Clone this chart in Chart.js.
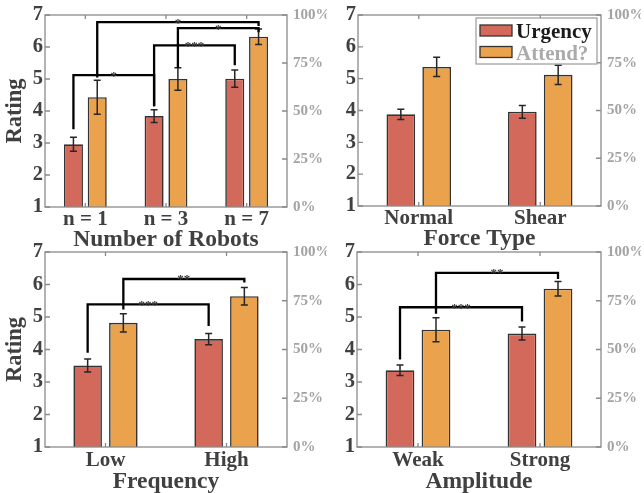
<!DOCTYPE html>
<html>
<head>
<meta charset="utf-8">
<script src="https://cdn.jsdelivr.net/npm/chart.js@4"></script>
<style>
html,body{margin:0;padding:0;width:644px;height:493px;overflow:hidden;background:#fff;}
canvas{position:absolute;left:0;top:0;}
</style>
</head>
<body>
<canvas id="p0" width="644" height="520"></canvas>
<canvas id="p1" width="644" height="520"></canvas>
<canvas id="p2" width="644" height="520"></canvas>
<canvas id="p3" width="644" height="520"></canvas>
<script>
// ---------------- data ----------------
const seriesNames = ['Urgency', 'Attend?'];
const ratingTicks = [1, 2, 3, 4, 5, 6, 7];
const percentTicks = [0, 25, 50, 75, 100];

const robotCats = ['n = 1', 'n = 3', 'n = 7'];
const robotUrgency = [2.96, 3.84, 5.01];
const robotUrgencyErr = [0.22, 0.20, 0.27];
const robotAttend = [4.43, 5.00, 6.32];
const robotAttendErr = [0.53, 0.35, 0.24];
const robotBrackets = [
  {from: [0, 0], to: [0, 1], y1: 3.43, top: 5.12, y2: 4.15, label: '*'},
  {from: [0, 1], to: [0, 2], y1: 4.15, top: 6.05, y2: 5.43, label: '***'},
  {from: [1, 1], to: [1, 2], y1: 5.34, top: 6.59, y2: 6.46, label: '*'},
  {from: [1, 0], to: [1, 2], y1: 5.05, top: 6.78, y2: 6.66, label: '*'}
];

const forceCats = ['Normal', 'Shear'];
const forceUrgency = [3.88, 3.96];
const forceUrgencyErr = [0.16, 0.20];
const forceAttend = [5.37, 5.12];
const forceAttendErr = [0.30, 0.30];
const forceBrackets = [];

const freqCats = ['Low', 'High'];
const freqUrgency = [3.51, 4.32];
const freqUrgencyErr = [0.20, 0.17];
const freqAttend = [4.82, 5.64];
const freqAttendErr = [0.28, 0.27];
const freqBrackets = [
  {from: [0, 0], to: [0, 1], y1: 3.90, top: 5.39, y2: 4.72, label: '***'},
  {from: [1, 0], to: [1, 1], y1: 5.23, top: 6.17, y2: 6.06, label: '**'}
];

const ampCats = ['Weak', 'Strong'];
const ampUrgency = [3.36, 4.49];
const ampUrgencyErr = [0.16, 0.20];
const ampAttend = [4.61, 5.87];
const ampAttendErr = [0.37, 0.22];
const ampBrackets = [
  {from: [0, 0], to: [0, 1], y1: 3.69, top: 5.30, y2: 4.86, label: '***'},
  {from: [1, 0], to: [1, 1], y1: 5.10, top: 6.36, y2: 6.17, label: '**'}
];

// ---------------- style ----------------
const FONT = "'Liberation Serif', 'Times New Roman', serif";
const DARK = '#404040';
const GRAY = '#a3a3a3';
const FRAME = '#8a8a8a';
const URG_COLOR = '#d3695b';
const ATT_COLOR = '#eaa24c';
const BAR_EDGE = '#333333';
const CW = 644, CH = 520, WY = 45, WY2 = 40;
const TITLE_SIZE = 23.5;

const panelPlugin = {
  id: 'panel',
  afterDatasetsDraw(chart, args, opts) {
    const ctx = chart.ctx;
    const a = chart.chartArea;
    const y = chart.scales.y, y2 = chart.scales.y2;
    ctx.save();
    // error bars
    chart.data.datasets.forEach((ds, di) => {
      const meta = chart.getDatasetMeta(di);
      meta.data.forEach((bar, i) => {
        const v = ds.data[i], e = ds.errors[i];
        const yt = y.getPixelForValue(v + e), yb = y.getPixelForValue(v - e);
        ctx.strokeStyle = '#262626';
        ctx.lineWidth = 1.5;
        ctx.beginPath();
        ctx.moveTo(bar.x, yt); ctx.lineTo(bar.x, yb);
        ctx.moveTo(bar.x - 3.5, yt); ctx.lineTo(bar.x + 3.5, yt);
        ctx.moveTo(bar.x - 3.5, yb); ctx.lineTo(bar.x + 3.5, yb);
        ctx.stroke();
      });
    });
    // significance brackets
    (opts.brackets || []).forEach(b => {
      const x1 = chart.getDatasetMeta(b.from[0]).data[b.from[1]].x;
      const x2 = chart.getDatasetMeta(b.to[0]).data[b.to[1]].x;
      const ya = y.getPixelForValue(b.y1);
      const yh = y.getPixelForValue(b.top);
      const yb = y.getPixelForValue(b.y2);
      ctx.strokeStyle = '#000';
      ctx.lineWidth = 2.3;
      ctx.lineJoin = 'miter';
      ctx.beginPath();
      ctx.moveTo(x1, ya); ctx.lineTo(x1, yh); ctx.lineTo(x2, yh); ctx.lineTo(x2, yb);
      ctx.stroke();
      ctx.fillStyle = '#3a3a3a';
      ctx.font = 'bold 13px ' + FONT;
      ctx.textAlign = 'center';
      ctx.textBaseline = 'alphabetic';
      ctx.fillText(b.label, (x1 + x2) / 2, yh + 4.5);
    });
    // frame
    ctx.strokeStyle = FRAME;
    ctx.lineWidth = 1.3;
    ctx.strokeRect(a.left, a.top, a.right - a.left, a.bottom - a.top);
    // inward ticks
    ctx.beginPath();
    y.ticks.forEach(t => {
      const py = y.getPixelForValue(t.value);
      ctx.moveTo(a.left, py); ctx.lineTo(a.left + 5, py);
    });
    y2.ticks.forEach(t => {
      const py = y2.getPixelForValue(t.value);
      ctx.moveTo(a.right, py); ctx.lineTo(a.right - 5, py);
    });
    chart.data.labels.forEach((l, i) => {
      const px = chart.scales.x.getPixelForValue(i);
      ctx.moveTo(px, a.top); ctx.lineTo(px, a.top + 4);
      ctx.moveTo(px, a.bottom); ctx.lineTo(px, a.bottom - 4);
    });
    ctx.stroke();
    // legend inside the axes
    if (opts.legend) {
      const bw = 121, bh = 46;
      const bx = a.right - 4 - bw, by = a.top + 3;
      ctx.fillStyle = '#fff';
      ctx.fillRect(bx, by, bw, bh);
      ctx.strokeStyle = '#9a9a9a';
      ctx.lineWidth = 1.2;
      ctx.strokeRect(bx, by, bw, bh);
      const rows = [by + 12.5, by + 34];
      const textColors = ['#1a1a1a', '#ababab'];
      chart.data.datasets.forEach((ds, i) => {
        ctx.fillStyle = ds.backgroundColor;
        ctx.fillRect(bx + 4, rows[i] - 5.5, 32, 11);
        ctx.strokeStyle = BAR_EDGE;
        ctx.lineWidth = 1.3;
        ctx.strokeRect(bx + 4, rows[i] - 5.5, 32, 11);
        ctx.fillStyle = textColors[i];
        ctx.font = 'bold 21px ' + FONT;
        ctx.textAlign = 'left';
        ctx.textBaseline = 'alphabetic';
        ctx.fillText(ds.label, bx + 40, rows[i] + 7.5);
      });
    }
    ctx.restore();
  }
};

function makePanel(id, area, cats, urg, urgErr, att, attErr, xTitle, showRating, brackets, legend, titleCenterY, xTickPad) {
  const hx = titleCenterY - area.B + TITLE_SIZE * 0.6;
  const fontSpec = (s) => ({family: FONT, size: s, weight: 'bold'});
  const ds = (label, data, errors, color) => ({
    label, data, errors,
    backgroundColor: color,
    borderColor: BAR_EDGE,
    borderWidth: 1.6,
    borderSkipped: false,
    categoryPercentage: 0.59,
    barPercentage: 0.8
  });
  return new Chart(document.getElementById(id), {
    type: 'bar',
    data: {
      labels: cats,
      datasets: [ds(seriesNames[0], urg, urgErr, URG_COLOR), ds(seriesNames[1], att, attErr, ATT_COLOR)]
    },
    plugins: [panelPlugin],
    options: {
      responsive: false,
      animation: false,
      events: [],
      layout: {padding: {left: area.L - WY, right: CW - area.R - WY2, top: area.T, bottom: CH - area.B - hx}},
      plugins: {
        legend: {display: false},
        tooltip: {enabled: false},
        panel: {brackets, legend}
      },
      scales: {
        x: {
          type: 'category',
          offset: true,
          grid: {display: false, drawTicks: false},
          border: {display: false},
          ticks: {color: DARK, font: fontSpec(21), padding: xTickPad, maxRotation: 0, autoSkip: false},
          title: {display: true, text: xTitle, color: DARK, font: fontSpec(TITLE_SIZE), padding: {top: 0, bottom: 0}},
          afterFit(s) { s.height = hx; }
        },
        y: {
          position: 'left',
          min: ratingTicks[0],
          max: ratingTicks[ratingTicks.length - 1],
          afterBuildTicks(s) { s.ticks = ratingTicks.map(v => ({value: v})); },
          ticks: {color: DARK, font: fontSpec(20.5), padding: 2},
          grid: {display: false, drawTicks: false},
          border: {display: false},
          title: {display: showRating, text: 'Rating', color: DARK, font: fontSpec(22.5), padding: {top: 1.5, bottom: 0}},
          afterFit(s) { s.width = WY; }
        },
        y2: {
          position: 'right',
          min: percentTicks[0],
          max: percentTicks[percentTicks.length - 1],
          afterBuildTicks(s) { s.ticks = percentTicks.map(v => ({value: v})); },
          ticks: {color: GRAY, font: fontSpec(15), padding: 6, callback: v => v + '%'},
          grid: {display: false, drawTicks: false},
          border: {display: false},
          afterFit(s) { s.width = WY2; }
        }
      }
    }
  });
}

makePanel('p0', {L: 45, R: 287, T: 12, B: 207}, robotCats, robotUrgency, robotUrgencyErr, robotAttend, robotAttendErr,
  'Number of Robots', true, robotBrackets, false, 240, 0);
makePanel('p1', {L: 358, R: 601, T: 12, B: 206}, forceCats, forceUrgency, forceUrgencyErr, forceAttend, forceAttendErr,
  'Force Type', false, forceBrackets, true, 239, 0);
makePanel('p2', {L: 45, R: 287, T: 252, B: 447}, freqCats, freqUrgency, freqUrgencyErr, freqAttend, freqAttendErr,
  'Frequency', true, freqBrackets, false, 482, 0.5);
makePanel('p3', {L: 357, R: 601, T: 252, B: 447}, ampCats, ampUrgency, ampUrgencyErr, ampAttend, ampAttendErr,
  'Amplitude', false, ampBrackets, false, 482, 0.5);
</script>
</body>
</html>
